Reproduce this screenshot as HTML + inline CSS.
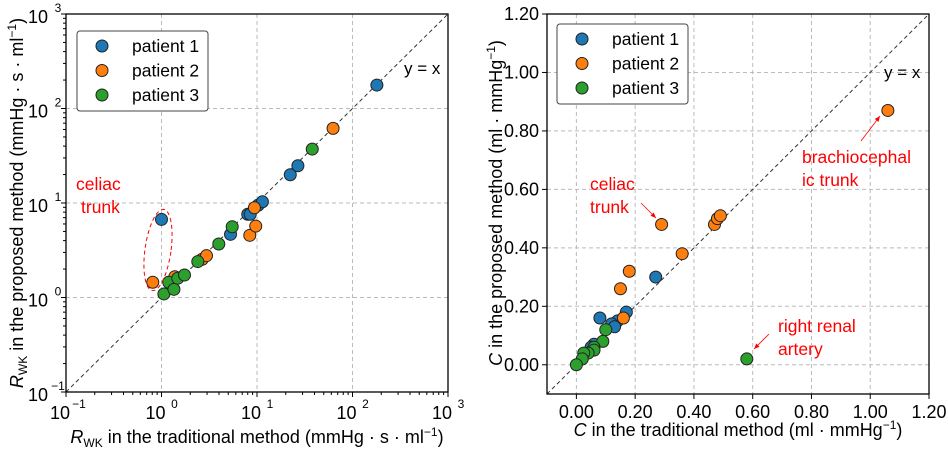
<!DOCTYPE html>
<html><head><meta charset="utf-8"><style>
body{margin:0;background:#fff;}
svg text{font-family:"Liberation Sans",Arial,sans-serif;}
</style></head><body>
<svg id="c" width="948" height="449" xmlns="http://www.w3.org/2000/svg"></svg>
<script>
const L_p1x=[1.0,5.28,8.0,8.5,10.3,11.4,22.3,26.8,180];
const L_p1y=[6.7,4.66,7.6,7.6,9.5,10.3,19.9,24.8,177];
const L_p2x=[0.81,1.38,2.67,2.96,8.4,9.4,9.7,62.6];
const L_p2y=[1.45,1.66,2.54,2.77,4.55,8.9,5.7,61.6];
const L_p3x=[1.06,1.19,1.35,1.48,1.74,2.4,3.98,5.5,37.9];
const L_p3y=[1.09,1.45,1.22,1.6,1.73,2.4,3.68,5.6,37.2];
const R_p1x=[0.27,0.17,0.08,0.14,0.12,0.13,0.06,0.05];
const R_p1y=[0.30,0.18,0.16,0.15,0.14,0.13,0.07,0.06];
const R_p2x=[1.06,0.29,0.47,0.48,0.49,0.36,0.18,0.15,0.16];
const R_p2y=[0.87,0.48,0.48,0.50,0.51,0.38,0.32,0.26,0.16];
const R_p3x=[0.58,0.10,0.09,0.06,0.06,0.04,0.025,0.02,0.0];
const R_p3y=[0.02,0.12,0.08,0.06,0.05,0.04,0.04,0.02,0.0];
const logTicks=[-1,0,1,2,3];
const linTicks=[0,0.2,0.4,0.6,0.8,1.0,1.2];
const colors=['#1f77b4','#ff7f0e','#2ca02c'];
const NS='http://www.w3.org/2000/svg';
const svg=document.getElementById('c');
function mk(tag,attrs,parent,txt){const e=document.createElementNS(NS,tag);for(const k in attrs)e.setAttribute(k,attrs[k]);if(txt!==undefined)e.textContent=txt;(parent||svg).appendChild(e);return e;}
const LX0=66,LX1=448,LY0=392,LY1=14;
const lx=v=>LX0+(Math.log10(v)+1)/4*(LX1-LX0);
const ly=v=>LY0-(Math.log10(v)+1)/4*(LY0-LY1);
const RX0=547,RX1=929,RY0=394,RY1=14;
const rx=v=>RX0+(v+0.1)/1.3*(RX1-RX0);
const ry=v=>RY0-(v+0.1)/1.3*(RY0-RY1);
const gl=mk('g',{});
logTicks.forEach(t=>{const v=Math.pow(10,t);
 mk('line',{x1:lx(v),x2:lx(v),y1:LY1,y2:LY0,stroke:'#bbb','stroke-dasharray':'4,3'},gl);
 mk('line',{x1:LX0,x2:LX1,y1:ly(v),y2:ly(v),stroke:'#bbb','stroke-dasharray':'4,3'},gl);
 const tx=mk('text',{x:lx(v)-6,y:LY0+27,'font-size':18,'text-anchor':'middle'},svg,'10');
 
 mk('text',{x:lx(v)+13,y:LY0+16,'font-size':12,'text-anchor':'middle'},svg,t<0?'−1':String(t));
 const ty=mk('text',{x:LX0-28,y:ly(v)+9,'font-size':18,'text-anchor':'middle'},svg,'10');
 
 mk('text',{x:LX0-8,y:ly(v)-2,'font-size':12,'text-anchor':'middle'},svg,t<0?'−1':String(t));
 if(t<3)for(let m=2;m<10;m++){const mv=v*m;
  mk('line',{x1:lx(mv),x2:lx(mv),y1:LY0,y2:LY0+3,stroke:'#000'});
  mk('line',{x1:LX0,x2:LX0-3,y1:ly(mv),y2:ly(mv),stroke:'#000'});}
 mk('line',{x1:lx(v),x2:lx(v),y1:LY0,y2:LY0+5,stroke:'#000'});
 mk('line',{x1:LX0,x2:LX0-5,y1:ly(v),y2:ly(v),stroke:'#000'});
});
const gr=mk('g',{});
linTicks.forEach(t=>{
 mk('line',{x1:rx(t),x2:rx(t),y1:RY1,y2:RY0,stroke:'#bbb','stroke-dasharray':'4,3'},gr);
 mk('line',{x1:RX0,x2:RX1,y1:ry(t),y2:ry(t),stroke:'#bbb','stroke-dasharray':'4,3'},gr);
 mk('line',{x1:rx(t),x2:rx(t),y1:RY0,y2:RY0+5,stroke:'#000'});
 mk('line',{x1:RX0,x2:RX0-5,y1:ry(t),y2:ry(t),stroke:'#000'});
 const a=mk('text',{x:rx(t),y:RY0+24,'font-size':18,'text-anchor':'middle'},svg,t.toFixed(2));
 
 const b=mk('text',{x:RX0-8,y:ry(t)+6,'font-size':18,'text-anchor':'end'},svg,t.toFixed(2));
 
});
mk('line',{x1:LX0,y1:LY0,x2:LX1,y2:LY1,stroke:'#333','stroke-dasharray':'4,3'});
mk('line',{x1:rx(-0.1),y1:ry(-0.1),x2:rx(1.2),y2:ry(1.2),stroke:'#333','stroke-dasharray':'4,3'});
mk('text',{x:404,y:74,'font-size':17},svg,'y = x');
mk('text',{x:884,y:78,'font-size':17},svg,'y = x');
function pts(xs,ys,fx,fy,col,name){xs.forEach((v,i)=>{const c=mk('circle',{cx:fx(v),cy:fy(ys[i]),r:6,fill:col,stroke:'#222','stroke-width':1});
 });}
pts(L_p1x,L_p1y,lx,ly,colors[0],'left-point-patient-1');
pts(L_p2x,L_p2y,lx,ly,colors[1],'left-point-patient-2');
pts(L_p3x,L_p3y,lx,ly,colors[2],'left-point-patient-3');
pts(R_p1x,R_p1y,rx,ry,colors[0],'right-point-patient-1');
pts(R_p2x,R_p2y,rx,ry,colors[1],'right-point-patient-2');
pts(R_p3x,R_p3y,rx,ry,colors[2],'right-point-patient-3');
mk('rect',{x:LX0,y:LY1,width:LX1-LX0,height:LY0-LY1,fill:'none',stroke:'#000','stroke-width':1.3});
mk('rect',{x:RX0,y:RY1,width:RX1-RX0,height:RY0-RY1,fill:'none',stroke:'#000','stroke-width':1.3});
function legend(x,y,name){const g=mk('g',{});
 mk('rect',{x:x,y:y,width:131,height:80,rx:3,fill:'#fff',stroke:'#444'},g);
 ['patient 1','patient 2','patient 3'].forEach((s,i)=>{mk('circle',{cx:x+25,cy:y+15+i*24.5,r:6,fill:colors[i],stroke:'#222'},g);
  mk('text',{x:x+55,y:y+21+i*24.5,'font-size':17.5},g,s);});}
legend(77,31,'left-legend');legend(557,24,'right-legend');
function rich(x,y,parts,rot,name){const t=mk('text',{x:x,y:y,'font-size':18,'text-anchor':'middle',transform:rot?`rotate(-90 ${x} ${y})`:''});
 
 parts.forEach(p=>{mk('tspan',p[1]||{},t,p[0]);});return t;}
rich(257,443,[['R',{'font-style':'italic'}],['WK',{'font-size':12,dy:4}],[' in the traditional method (mmHg · s · ml',{dy:-4}],['−1',{'font-size':12,dy:-7}],[')',{dy:7}]],false,'left-x-axis-title');
rich(23,203,[['R',{'font-style':'italic'}],['WK',{'font-size':12,dy:4}],[' in the proposed method (mmHg · s · ml',{dy:-4}],['−1',{'font-size':12,dy:-7}],[')',{dy:7}]],true,'left-y-axis-title');
rich(738,436,[['C',{'font-style':'italic'}],[' in the traditional method (ml · mmHg'],['−1',{'font-size':12,dy:-7}],[')',{dy:7}]],false,'right-x-axis-title');
rich(502,203,[['C',{'font-style':'italic'}],[' in the proposed method (ml · mmHg'],['−1',{'font-size':12,dy:-7}],[')',{dy:7}]],true,'right-y-axis-title');
const red='#f00';
mk('text',{x:76,y:190,'font-size':17.5,fill:red},svg,'celiac');
mk('text',{x:81,y:213,'font-size':17.5,fill:red},svg,'trunk');
mk('ellipse',{cx:158,cy:250,rx:13,ry:41,fill:'none',stroke:red,'stroke-dasharray':'4,3',transform:'rotate(8 158 250)'});
mk('text',{x:590,y:190,'font-size':17.5,fill:red},svg,'celiac');
mk('text',{x:590,y:213,'font-size':17.5,fill:red},svg,'trunk');
mk('text',{x:802,y:163,'font-size':17.5,fill:red},svg,'brachiocephal');
mk('text',{x:802,y:186,'font-size':17.5,fill:red},svg,'ic trunk');
mk('text',{x:778,y:332,'font-size':17.5,fill:red},svg,'right renal');
mk('text',{x:778,y:355,'font-size':17.5,fill:red},svg,'artery');
function arrow(x1,y1,x2,y2){mk('line',{x1:x1,y1:y1,x2:x2,y2:y2,stroke:red,'stroke-width':0.8});
 const a=Math.atan2(y2-y1,x2-x1),s=6;
 mk('polygon',{points:`${x2},${y2} ${x2-s*Math.cos(a-0.4)},${y2-s*Math.sin(a-0.4)} ${x2-s*Math.cos(a+0.4)},${y2-s*Math.sin(a+0.4)}`,fill:red});}
arrow(641,203,656,218);arrow(861,141,880,116);arrow(769,334,754,349);
</script>
</body></html>
